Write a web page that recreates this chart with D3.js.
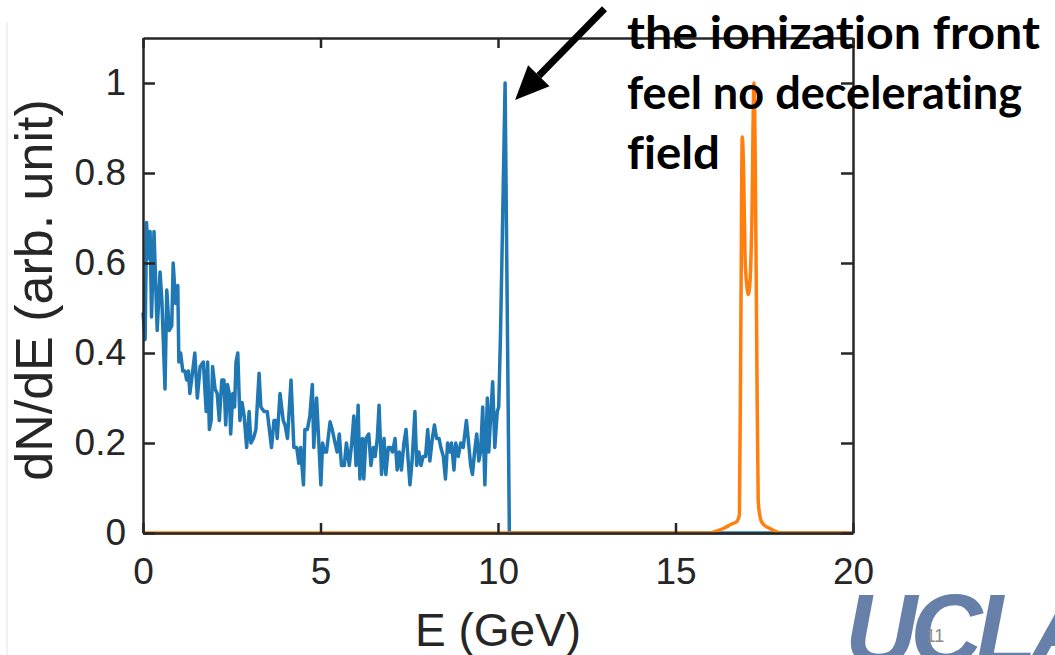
<!DOCTYPE html>
<html>
<head>
<meta charset="utf-8">
<script src="https://cdn.jsdelivr.net/npm/d3@7"></script>
<style>
  html, body { margin: 0; padding: 0; background: #fff; }
  svg { display: block; }
</style>
</head>
<body>
<svg id="chart" width="1055" height="655"></svg>
<script>
// blue spectrum (energy in GeV, dN/dE)
const blueE = [0.00, 0.06, 0.10, 0.15, 0.20, 0.24, 0.31, 0.40, 0.48, 0.53, 0.62, 0.67, 0.74, 0.81, 0.85, 0.92, 0.98,
  1.01, 1.06, 1.12, 1.18, 1.23, 1.28, 1.32, 1.40, 1.46, 1.53, 1.61, 1.70, 1.78, 1.82, 1.87, 1.92, 1.96,
  2.03, 2.09, 2.15, 2.22, 2.28, 2.33, 2.38, 2.43, 2.47, 2.53, 2.58, 2.62, 2.67, 2.73, 2.79, 2.85, 2.92, 2.99,
  3.04, 3.11, 3.18, 3.27, 3.32, 3.41, 3.50, 3.62, 3.69, 3.75, 3.78, 3.86, 3.95,
  4.00, 4.07, 4.17, 4.25, 4.33, 4.39, 4.44, 4.52, 4.56, 4.63, 4.70, 4.77, 4.81, 4.89, 4.96,
  5.01, 5.06, 5.11, 5.17, 5.27, 5.33, 5.41, 5.47, 5.53, 5.59, 5.67, 5.73, 5.81, 5.88, 5.94,
  6.00, 6.06, 6.11, 6.18, 6.22, 6.28, 6.36, 6.42, 6.49, 6.54, 6.60, 6.65, 6.72, 6.79, 6.84, 6.91, 6.97,
  7.03, 7.10, 7.16, 7.22, 7.28, 7.35, 7.41, 7.47, 7.52, 7.58, 7.66, 7.71, 7.77, 7.83, 7.89, 7.96,
  8.02, 8.08, 8.15, 8.21, 8.27, 8.34, 8.39, 8.46, 8.52, 8.58, 8.65, 8.69, 8.76, 8.81, 8.88, 8.95,
  9.02, 9.11, 9.16, 9.23, 9.28, 9.34, 9.40, 9.46, 9.51, 9.57, 9.63, 9.70, 9.74, 9.80, 9.85, 9.91, 9.98,
  10.02, 10.07, 10.12, 10.20, 10.32, 20.0]
const blueV = [0.49, 0.43, 0.69, 0.61, 0.67, 0.48, 0.67, 0.45, 0.58, 0.52, 0.32, 0.54, 0.45, 0.46, 0.60, 0.51, 0.55,
  0.38, 0.40, 0.36, 0.36, 0.34, 0.36, 0.31, 0.36, 0.40, 0.30, 0.37, 0.38, 0.27, 0.38, 0.23, 0.25, 0.37,
  0.32, 0.31, 0.25, 0.34, 0.34, 0.24, 0.33, 0.31, 0.22, 0.31, 0.28, 0.38, 0.40, 0.25, 0.29, 0.26, 0.19, 0.27,
  0.20, 0.21, 0.23, 0.355, 0.28, 0.27, 0.27, 0.19, 0.25, 0.25, 0.21, 0.31, 0.25,
  0.24, 0.21, 0.34, 0.19, 0.19, 0.155, 0.19, 0.107, 0.23, 0.23, 0.26, 0.33, 0.19, 0.30, 0.19,
  0.107, 0.20, 0.18, 0.18, 0.247, 0.23, 0.20, 0.18, 0.22, 0.15, 0.15, 0.20, 0.15, 0.20, 0.26,
  0.15, 0.284, 0.12, 0.21, 0.12, 0.21, 0.22, 0.15, 0.19, 0.17, 0.21, 0.284, 0.13, 0.21, 0.13, 0.19, 0.19,
  0.18, 0.21, 0.14, 0.18, 0.14, 0.20, 0.23, 0.16, 0.107, 0.16, 0.27, 0.15, 0.18, 0.15, 0.17, 0.17,
  0.23, 0.16, 0.21, 0.24, 0.21, 0.21, 0.19, 0.17, 0.12, 0.20, 0.18, 0.20, 0.14, 0.20, 0.17, 0.20,
  0.19, 0.25, 0.21, 0.15, 0.13, 0.18, 0.22, 0.16, 0.18, 0.28, 0.107, 0.30, 0.18, 0.27, 0.336, 0.19, 0.27,
  0.28, 0.44, 0.65, 1.0, 0.0, 0.0]

// orange spectrum
const orangeE = [0.0, 16.0, 16.11, 16.35, 16.58, 16.72, 16.80, 16.84, 16.88, 16.92, 16.96, 17.01, 17.05, 17.10, 17.15, 17.21, 17.25, 17.29, 17.33, 17.40, 17.47, 17.66, 17.99, 20.0]
const orangeV = [0.0, 0.0, 0.003, 0.01, 0.02, 0.025, 0.04, 0.45, 0.88, 0.80, 0.61, 0.55, 0.53, 0.56, 0.69, 1.0, 0.80, 0.40, 0.07, 0.03, 0.02, 0.01, 0.0, 0.0]

const xTicks = [0, 5, 10, 15, 20]
const yTicks = [0, 0.2, 0.4, 0.6, 0.8, 1]
const noteLines = ["the ionization front", "feel no decelerating", "field"]

const svg = d3.select("#chart")
const ivp = { x: 143, y: 38, w: 853, h: 533 }
const axisColor = "#262626"

const x = d3.scaleLinear().domain([0, 20]).range([ivp.x, ivp.w])
const y = d3.scaleLinear().domain([0, 1.1]).range([ivp.h, ivp.y])

// faint slide border on the left
svg.append("line")
  .attr("x1", 7).attr("x2", 7).attr("y1", 22).attr("y2", 655)
  .attr("stroke", "#ececec").attr("stroke-width", 1.5)

// UCLA logo + page number
svg.append("text")
  .attr("x", 845).attr("y", 664)
  .attr("font-family", "Liberation Sans, Arial, sans-serif")
  .attr("font-weight", "bold").attr("font-style", "italic")
  .attr("font-size", 100).attr("letter-spacing", -7)
  .attr("fill", "#6680a9")
  .text("UCLA")

svg.append("text")
  .attr("x", 935).attr("y", 642).attr("text-anchor", "middle")
  .attr("font-family", "Liberation Sans, Arial, sans-serif")
  .attr("font-size", 18).attr("fill", "#8a8a8a")
  .text("11")

// spectra
const line = d3.line().x(d => x(d[0])).y(d => y(d[1]))
svg.append("path")
  .datum(d3.zip(blueE, blueV))
  .attr("d", line)
  .attr("fill", "none").attr("stroke", "#1f77b4")
  .attr("stroke-width", 3.5).attr("stroke-linejoin", "round")

svg.append("path")
  .datum(d3.zip(orangeE, orangeV))
  .attr("d", line.curve(d3.curveMonotoneX))
  .attr("fill", "none").attr("stroke", "#ff7f0e")
  .attr("stroke-width", 3.5).attr("stroke-linejoin", "round")

// axes (box with inward ticks)
const fmt = d => String(d)
const gx = svg.append("g").attr("transform", `translate(0,${ivp.h})`)
  .call(d3.axisBottom(x).tickValues(xTicks).tickFormat(fmt).tickSizeInner(-10).tickSizeOuter(0).tickPadding(25))
const gxt = svg.append("g").attr("transform", `translate(0,${ivp.y})`)
  .call(d3.axisTop(x).tickValues(xTicks).tickFormat("").tickSizeInner(-10).tickSizeOuter(0))
const gy = svg.append("g").attr("transform", `translate(${ivp.x},0)`)
  .call(d3.axisLeft(y).tickValues(yTicks).tickFormat(fmt).tickSizeInner(-12).tickSizeOuter(0).tickPadding(17))
const gyr = svg.append("g").attr("transform", `translate(${ivp.w},0)`)
  .call(d3.axisRight(y).tickValues(yTicks).tickFormat("").tickSizeInner(-12).tickSizeOuter(0))

for (const g of [gx, gxt, gy, gyr]) {
  g.select(".domain").attr("stroke", axisColor).attr("stroke-width", 2.5)
  g.selectAll(".tick line").attr("stroke", axisColor).attr("stroke-width", 2.5)
  g.selectAll(".tick text")
    .attr("fill", axisColor)
    .attr("font-family", "Liberation Sans, Arial, sans-serif")
    .attr("font-size", 37)
}

// axis labels
svg.append("text")
  .attr("x", x(10)).attr("y", 646).attr("text-anchor", "middle")
  .attr("font-family", "Liberation Sans, Arial, sans-serif")
  .attr("font-size", 46).attr("fill", axisColor)
  .text("E (GeV)")

svg.append("text")
  .attr("transform", `translate(52,${y(0.54)}) rotate(-90)`)
  .attr("text-anchor", "middle")
  .attr("font-family", "Liberation Sans, Arial, sans-serif")
  .attr("font-size", 52).attr("fill", axisColor)
  .text("dN/dE (arb. unit)")

// arrow pointing at the blue peak
const arrowFrom = [13.0, 1.165], arrowTo = [10.48, 0.962]
const ax0 = x(arrowFrom[0]), ay0 = y(arrowFrom[1])
const ax1 = x(arrowTo[0]), ay1 = y(arrowTo[1])
const ang = Math.atan2(ay1 - ay0, ax1 - ax0)
const headLen = 34, headHalf = 15
const bx = ax1 - headLen * Math.cos(ang), by = ay1 - headLen * Math.sin(ang)
svg.append("line")
  .attr("x1", ax0).attr("y1", ay0).attr("x2", bx).attr("y2", by)
  .attr("stroke", "#000").attr("stroke-width", 7)
svg.append("polygon")
  .attr("points", [
    [ax1, ay1],
    [bx + headHalf * Math.sin(ang), by - headHalf * Math.cos(ang)],
    [bx - headHalf * Math.sin(ang), by + headHalf * Math.cos(ang)]
  ].map(p => p.join(",")).join(" "))
  .attr("fill", "#000")

// annotation
const noteWidths = [413, 395, 93]
svg.selectAll("text.note")
  .data(noteLines)
  .enter()
  .append("text")
  .attr("class", "note")
  .attr("x", 627)
  .attr("y", (d, i) => 49 + i * 60)
  .attr("font-family", "Lato, 'Open Sans', sans-serif")
  .attr("font-weight", "bold")
  .attr("font-size", 46)
  .style("font-variant-ligatures", "none")
  .attr("fill", "#000")
  .attr("textLength", (d, i) => noteWidths[i])
  .attr("lengthAdjust", "spacingAndGlyphs")
  .text(d => d)
</script>
</body>
</html>
